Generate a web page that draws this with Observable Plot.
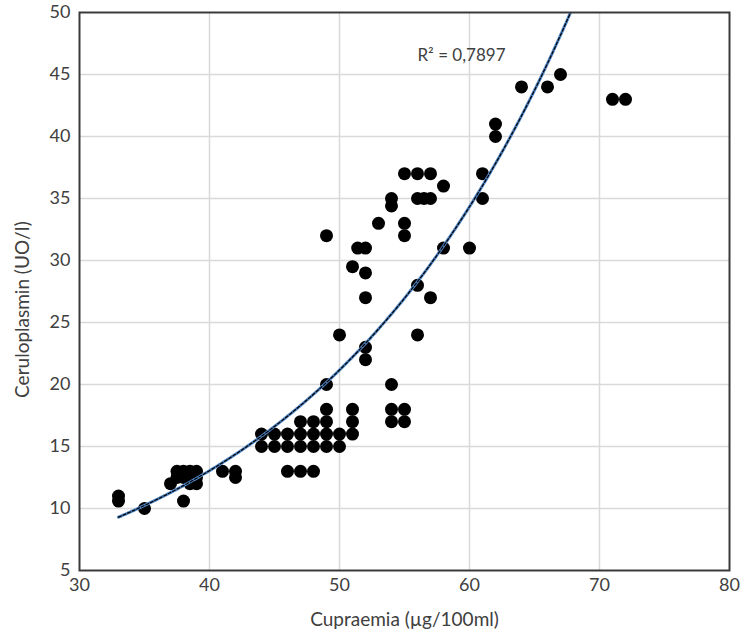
<!DOCTYPE html>
<html>
<head>
<meta charset="utf-8">
<script src="https://cdn.jsdelivr.net/npm/d3@7"></script>
<script src="https://cdn.jsdelivr.net/npm/@observablehq/plot@0.6"></script>
<style>
  html, body { margin: 0; padding: 0; background: #fff; }
  #chart svg { display: block; }
</style>
</head>
<body>
<div id="chart"></div>
<script>
// Cupraemia (µg/100ml)
const cupraemia = [
  33, 33, 35,
  37, 37.5, 37.5, 38, 38.5, 39, 38, 38.5, 39, 39, 38,
  41, 42, 42,
  44, 44, 45, 45,
  46, 46, 46,
  47, 47, 47, 47,
  48, 48, 48, 48,
  49, 49, 49, 49, 49, 49,
  50, 50, 50,
  51, 51, 51, 51,
  51.4, 52, 52, 52, 52, 52,
  53,
  54, 54, 54, 54, 54,
  55, 55, 55, 55, 55,
  56, 56, 56, 56, 56.5,
  57, 57, 57,
  58, 58, 60, 61, 61, 62, 62, 64, 66, 67, 71, 72
];
// Ceruloplasmin (UO/l)
const ceruloplasmin = [
  11, 10.6, 10,
  12, 12.5, 13, 13, 13, 13, 12.5, 12, 12.5, 12, 10.6,
  13, 13, 12.5,
  16, 15, 16, 15,
  16, 15, 13,
  17, 16, 15, 13,
  17, 16, 15, 13,
  32, 20, 18, 17, 16, 15,
  24, 16, 15,
  29.5, 18, 17, 16,
  31, 31, 29, 27, 23, 22,
  33,
  35, 34.4, 20, 18, 17,
  37, 33, 32, 18, 17,
  37, 35, 28, 24, 35,
  37, 35, 27,
  36, 31, 31, 37, 35, 41, 40, 44, 44, 45, 43, 43
];
const xTicks = [30, 40, 50, 60, 70, 80];
const yTicks = [5, 10, 15, 20, 25, 30, 35, 40, 45, 50];
const xTitle = "Cupraemia (µg/100ml)";
const yTitle = "Ceruloplasmin (UO/I)";
const r2Label = "R² = 0,7897";
// Exponential trendline y = A·e^(B·x), coefficients
const trendA = 1.885;
const trendB = 0.04837;

const points = cupraemia.map((x, i) => ({x, y: ceruloplasmin[i]}));
const [x0, x1] = d3.extent(cupraemia);
const trend = d3.range(x0, x1 + 0.001, 0.1).map(x => ({x, y: trendA * Math.exp(trendB * x)}));

const font = "Lato, 'Open Sans', sans-serif";
const ink = "#404040";

const chart = Plot.plot({
  width: 740,
  height: 638,
  marginLeft: 79,
  marginRight: 11,
  marginTop: 12,
  marginBottom: 68,
  style: {fontFamily: font, color: ink, background: "#fff"},
  x: {domain: [30, 80]},
  y: {domain: [5, 50]},
  marks: [
    Plot.gridX(xTicks.slice(1, -1), {stroke: "#d9d9d9", strokeOpacity: 1, strokeWidth: 1.5}),
    Plot.gridY(yTicks.slice(1, -1), {stroke: "#d9d9d9", strokeOpacity: 1, strokeWidth: 1.5}),
    Plot.axisX(xTicks, {tickSize: 0, tickPadding: 8, fontSize: 18, fill: ink, label: null}),
    Plot.axisY(yTicks, {tickSize: 0, tickPadding: 9, fontSize: 18, fill: ink, label: null}),
    Plot.dot(points, {x: "x", y: "y", r: 6.5, fill: "#000", stroke: "none"}),
    Plot.line(trend, {x: "x", y: "y", stroke: "#4f86c6", strokeWidth: 3, clip: true}),
    Plot.line(trend, {x: "x", y: "y", stroke: "#000", strokeWidth: 1.2, strokeDasharray: "3,2", clip: true}),
    Plot.frame({stroke: "#3a3a3a", strokeWidth: 2}),
    Plot.text([r2Label], {frameAnchor: "top-left", dx: 382, dy: 36, fontSize: 17, fill: ink, textAnchor: "middle"}),
    Plot.text([xTitle], {frameAnchor: "bottom", dy: 55, fontSize: 19, fill: ink, textAnchor: "middle"}),
    Plot.text([yTitle], {frameAnchor: "left", dx: -57, dy: 18, rotate: -90, fontSize: 19, fill: ink, textAnchor: "middle"})
  ]
});
document.getElementById("chart").appendChild(chart);
</script>
</body>
</html>
